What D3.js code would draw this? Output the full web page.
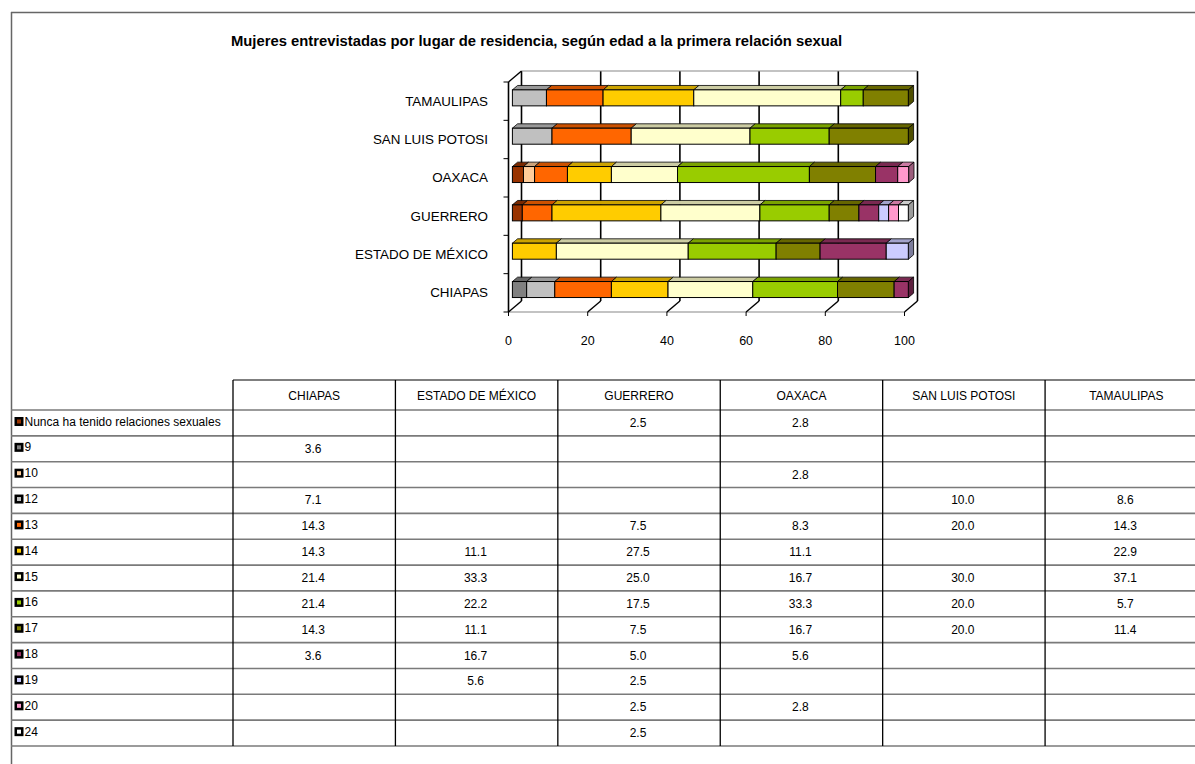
<!DOCTYPE html>
<html><head><meta charset="utf-8">
<script src="https://cdn.jsdelivr.net/npm/d3@7"></script>
<style>body{margin:0;background:#fff} svg{display:block} text{font-family:"Liberation Sans",Arial,sans-serif;fill:#000}</style>
</head><body><svg id="c" width="1195" height="764"></svg>
<script>
// ---------------- DATA ----------------
const title = "Mujeres entrevistadas por lugar de residencia, según edad a la primera relación sexual";
const states = ["CHIAPAS","ESTADO DE MÉXICO","GUERRERO","OAXACA","SAN LUIS POTOSI","TAMAULIPAS"];
const seriesNames = ["Nunca ha tenido relaciones sexuales","9","10","12","13","14","15","16","17","18","19","20","24"];
const seriesColors = ["#993300","#808080","#FFCC99","#C0C0C0","#FF6600","#FFCC00","#FFFFCC","#99CC00","#808000","#993366","#CCCCFF","#FF99CC","#FFFFFF"];
// values per state, in the order of `states`
const vNunca = [null,null,2.5,2.8,null,null];
const v9     = [3.6,null,null,null,null,null];
const v10    = [null,null,null,2.8,null,null];
const v12    = [7.1,null,null,null,10.0,8.6];
const v13    = [14.3,null,7.5,8.3,20.0,14.3];
const v14    = [14.3,11.1,27.5,11.1,null,22.9];
const v15    = [21.4,33.3,25.0,16.7,30.0,37.1];
const v16    = [21.4,22.2,17.5,33.3,20.0,5.7];
const v17    = [14.3,11.1,7.5,16.7,20.0,11.4];
const v18    = [3.6,16.7,5.0,5.6,null,null];
const v19    = [null,5.6,2.5,null,null,null];
const v20    = [null,null,2.5,2.8,null,null];
const v24    = [null,null,2.5,null,null,null];
const xTicks = [0,20,40,60,80,100];

const seriesValues = [vNunca,v9,v10,v12,v13,v14,v15,v16,v17,v18,v19,v20,v24];

// ---------------- DRAW ----------------
const svg = d3.select("#c");

// outer frame
svg.append("line").attr("x1",11).attr("y1",12.5).attr("x2",1195).attr("y2",12.5).attr("stroke","#666").attr("stroke-width",1.5);
svg.append("line").attr("x1",11.5).attr("y1",12).attr("x2",11.5).attr("y2",764).attr("stroke","#666").attr("stroke-width",1.5);

// title
svg.append("text").attr("x",231).attr("y",45.5).attr("font-size",14.8).attr("font-weight","bold").text(title);

// chart
const x = d3.scaleLinear().domain([0,100]).range([508.5,904.5]);
const y = d3.scaleBand().domain(states.slice().reverse()).range([82,312]);
const DX = 13, DY = -11;
const yTop = 82, yBot = 312;

const g = svg.append("g");
// back wall gridlines
g.selectAll("line.grid").data(xTicks).join("line")
  .attr("x1",d=>x(d)+DX).attr("x2",d=>x(d)+DX).attr("y1",yTop+DY).attr("y2",yBot+DY)
  .attr("stroke","#000").attr("stroke-width",1.6);
// back wall top edge
g.append("line").attr("x1",x(0)+DX).attr("x2",x(100)+DX).attr("y1",yTop+DY).attr("y2",yTop+DY).attr("stroke","#888").attr("stroke-width",1.2);
// floor front edge
g.append("line").attr("x1",x(0)).attr("x2",x(100)).attr("y1",yBot).attr("y2",yBot).attr("stroke","#888").attr("stroke-width",1.2);
// floor slanted lines
g.selectAll("line.floor").data(xTicks).join("line")
  .attr("x1",d=>x(d)).attr("x2",d=>x(d)+DX).attr("y1",yBot).attr("y2",yBot+DY)
  .attr("stroke","#000").attr("stroke-width",1.4);
// x tick marks
g.selectAll("line.xt").data(xTicks).join("line")
  .attr("x1",d=>x(d)).attr("x2",d=>x(d)).attr("y1",yBot).attr("y2",yBot+4)
  .attr("stroke","#000").attr("stroke-width",1);
// left wall
g.append("line").attr("x1",x(0)).attr("x2",x(0)).attr("y1",yTop).attr("y2",yBot).attr("stroke","#000").attr("stroke-width",1.6);
g.append("line").attr("x1",x(0)).attr("x2",x(0)+DX).attr("y1",yTop).attr("y2",yTop+DY).attr("stroke","#000").attr("stroke-width",1.4);
// y ticks
const yBounds = y.domain().map(d=>y(d)).concat([yBot]);
g.selectAll("line.yt").data(yBounds).join("line")
  .attr("x1",x(0)-5).attr("x2",x(0)).attr("y1",d=>d).attr("y2",d=>d)
  .attr("stroke","#000").attr("stroke-width",1);

// x tick labels
g.selectAll("text.xl").data(xTicks).join("text")
  .attr("x",d=>x(d)).attr("y",341).attr("text-anchor","middle").attr("dominant-baseline","central")
  .attr("font-size",12.5).text(d=>d);
// category labels
g.selectAll("text.cl").data(states).join("text")
  .attr("x",488).attr("y",d=>y(d)+y.bandwidth()/2).attr("text-anchor","end").attr("dominant-baseline","central")
  .attr("font-size",13.4).text(d=>d);

// stacked bars
const rows = states.map((s,i)=>{ const o={state:s}; seriesNames.forEach((k,j)=>o[k]=seriesValues[j][i]); return o; });
const stack = d3.stack().keys(seriesNames).value((d,k)=>d[k]||0)(rows);
const f0 = 0.3, f1 = 0.7, barH = 16;
const ddx = DX*(f1-f0), ddy = DY*(f1-f0);
const segs = [];
stack.forEach((layer,j)=>{
  layer.forEach((p,i)=>{
    if (p[1]-p[0] > 0) segs.push({j, state:states[i], v0:p[0], v1:p[1]});
  });
});
const lastOf = {};
segs.forEach(s=>{ if(!lastOf[s.state] || s.v1>=lastOf[s.state].v1) lastOf[s.state]=s; });

const bars = svg.append("g");
segs.forEach(s=>{
  const c = seriesColors[s.j];
  const cy = y(s.state)+y.bandwidth()/2 + DY*f0;
  const x0 = x(s.v0)+DX*f0, x1 = x(s.v1)+DX*f0;
  const yt = cy-barH/2, yb = cy+barH/2;
  bars.append("polygon")
    .attr("points",[[x0,yt],[x1,yt],[x1+ddx,yt+ddy],[x0+ddx,yt+ddy]].join(" "))
    .attr("fill",d3.color(c).darker(0.63)).attr("stroke","#000").attr("stroke-width",0.8).attr("stroke-linejoin","round");
  bars.append("rect").attr("x",x0).attr("y",yt).attr("width",x1-x0).attr("height",barH)
    .attr("fill",c).attr("stroke","#000").attr("stroke-width",1);
  if (lastOf[s.state]===s) {
    bars.append("polygon")
      .attr("points",[[x1,yt],[x1+ddx,yt+ddy],[x1+ddx,yb+ddy],[x1,yb]].join(" "))
      .attr("fill",d3.color(c).darker(1.4)).attr("stroke","#000").attr("stroke-width",0.8).attr("stroke-linejoin","round");
  }
});

// ---------------- TABLE ----------------
const col = d3.scaleBand().domain(states).range([233,1207.5]);
const row = d3.scaleBand().domain(seriesNames).range([410,746]);
const hTop = 380, tBot = 746;
const t = svg.append("g");
t.append("line").attr("x1",233).attr("x2",1195).attr("y1",hTop).attr("y2",hTop).attr("stroke","#000").attr("stroke-width",1.2);
const hl = seriesNames.map(d=>row(d)).concat([tBot]);
t.selectAll("line.h").data(hl).join("line")
  .attr("x1",11).attr("x2",1195).attr("y1",d=>d).attr("y2",d=>d)
  .attr("stroke","#7a7a7a").attr("stroke-width",1.6);
const vl = [233].concat(states.slice(1).map(s=>col(s)));
t.selectAll("line.v").data(vl).join("line")
  .attr("x1",d=>d).attr("x2",d=>d).attr("y1",hTop).attr("y2",tBot)
  .attr("stroke","#000").attr("stroke-width",1.3);
t.selectAll("text.hd").data(states).join("text")
  .attr("x",d=>col(d)+col.bandwidth()/2).attr("y",395.5).attr("text-anchor","middle").attr("dominant-baseline","central")
  .attr("font-size",12).text(d=>d);
seriesNames.forEach((name,j)=>{
  const cy = row(name)+11.5;
  t.append("rect").attr("x",14.5).attr("y",cy-4.5).attr("width",9).attr("height",9).attr("fill","#000");
  t.append("rect").attr("x",17).attr("y",cy-2).attr("width",4).attr("height",4).attr("fill",seriesColors[j]);
  t.append("text").attr("x",24.5).attr("y",cy).attr("dominant-baseline","central").attr("font-size",12).text(name);
  states.forEach((s,i)=>{
    const v = seriesValues[j][i];
    if (v!==null) t.append("text").attr("x",col(s)+col.bandwidth()/2-1).attr("y",row(name)+row.bandwidth()/2).attr("text-anchor","middle")
      .attr("dominant-baseline","central").attr("font-size",12).text(v.toFixed(1));
  });
});
</script></body></html>
